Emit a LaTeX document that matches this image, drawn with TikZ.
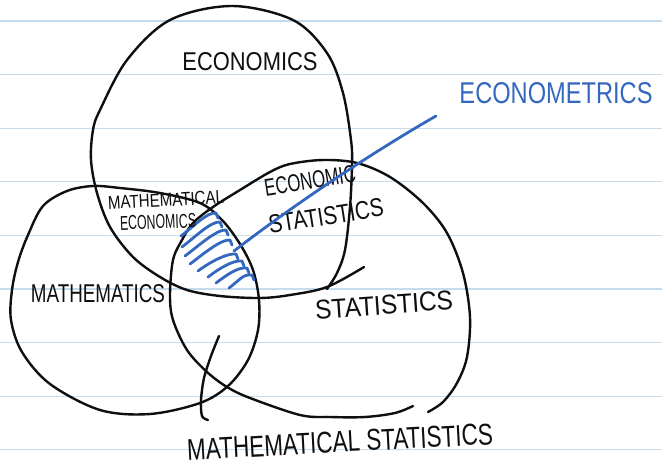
\documentclass[tikz,border=0pt]{standalone}
\usepackage{fontspec}
\setmainfont{Liberation Sans}
\definecolor{ruleblue}{RGB}{196,220,236}
\definecolor{ink}{RGB}{15,15,15}
\definecolor{blueink}{RGB}{52,104,192}
% fit a label into a box of given width and height (pt)
\newcommand{\fitlabel}[3]{\resizebox{#1pt}{#2pt}{#3}}
\tikzset{
  pen/.style={draw=ink, line width=2.4pt, line cap=round, line join=round},
  bluepen/.style={draw=blueink, line width=2.8pt, line cap=round, line join=round},
  ruled/.style={draw=ruleblue, line width=1.3pt},
  lab/.style={inner sep=0pt, text=ink},
  bluelab/.style={inner sep=0pt, text=blueink},
}
\begin{document}
\begin{tikzpicture}[x=1pt, y=-1pt]
\useasboundingbox (0,0) rectangle (662,468);
\fill[white] (0,0) rectangle (662,468);

% ruled notebook paper
\foreach \yy in {21,74.6,128.2,181.8,235.4,289,342.6,396.2,449.8}
  \draw[ruled] (0,\yy) -- (662,\yy);

% economics
\draw[pen] plot[smooth, tension=0.55] coordinates {
  (364,267) (327,287) (290,295) (260,298) (220,296) (187,290) (160,277)
  (133,257) (110,227) (97,193) (91,160) (93,130) (100,110) (127,60) (170,20)
  (232,6) (293,20) (327,53) (343,93) (351,140) (352,165) (350,207) (345,250)
  (337,273) (327,289)};

% mathematics
\draw[pen] plot[smooth cycle, tension=0.55] coordinates {
  (93,186) (120,188) (160,193) (200,203) (222,220) (240,244) (253,270)
  (259,300) (258,330) (248,360) (228,386) (200,403) (150,414) (100,410)
  (50,384) (22,352) (11,320) (12,290) (18,262) (28,235) (43,206) (67,191)};

% statistics
\draw[pen] plot[smooth, tension=0.55] coordinates {
  (413,406) (395,413) (365,417) (330,417) (300,415) (250,398) (227,387)
  (207,372) (187,350) (173,320) (170,295) (173,260) (182,240) (193,223)
  (213,207) (240,190) (270,172) (290,164) (323,160) (357,163) (390,177)
  (423,203) (447,233) (463,273) (470,317) (467,357) (457,383) (443,402)
  (428,412)};

% short extra stroke through the lower crossing
\draw[pen] plot[smooth, tension=0.5] coordinates {
  (219,336) (211,356) (204,378) (201,400) (202,416) (208,420)};

% hatching of the triple overlap
\foreach \sx/\sy/\ex/\ey in {
    181/236/216/213, 182/247/220/222, 185/256/226/230, 190/264/230/240,
    198/271/236/254, 208/277/242/261, 216/283/247/268, 229/288/252/275}
  \draw[bluepen] (\sx,\sy) .. controls +(12,-9) and +(-9,-1) .. (\ex,\ey) -- +(2,5);

% labels
\node[lab] (econ) at (250,62) {\fitlabel{135}{18}{ECONOMICS}};
\node[lab] (math) at (98,294) {\fitlabel{134}{18}{MATHEMATICS}};
\node[lab, rotate=4] (stat) at (384,305) {\fitlabel{138}{19}{STATISTICS}};
\node[lab, rotate=3] (mathecon1) at (166,200) {\fitlabel{116}{13}{MATHEMATICAL}};
\node[lab, rotate=2] (mathecon2) at (158,222) {\fitlabel{76}{14}{ECONOMICS}};
\node[lab, rotate=9] (econstat1) at (310,181) {\fitlabel{92}{17}{ECONOMIC}};
\node[lab, rotate=9] (econstat2) at (326,216) {\fitlabel{116}{18}{STATISTICS}};
\node[lab, rotate=3] (mathstat) at (340,442) {\fitlabel{306}{21}{MATHEMATICAL STATISTICS}};
\node[bluelab] (metrics) at (556,93) {\fitlabel{193}{21}{ECONOMETRICS}};

% pointer from the hatched region towards the econometrics label
\coordinate (hatch) at (234,251);
\coordinate (tip) at (436,116);
\draw[bluepen] (hatch) .. controls (300,200) and (380,148) .. (tip);
\end{tikzpicture}
\end{document}
